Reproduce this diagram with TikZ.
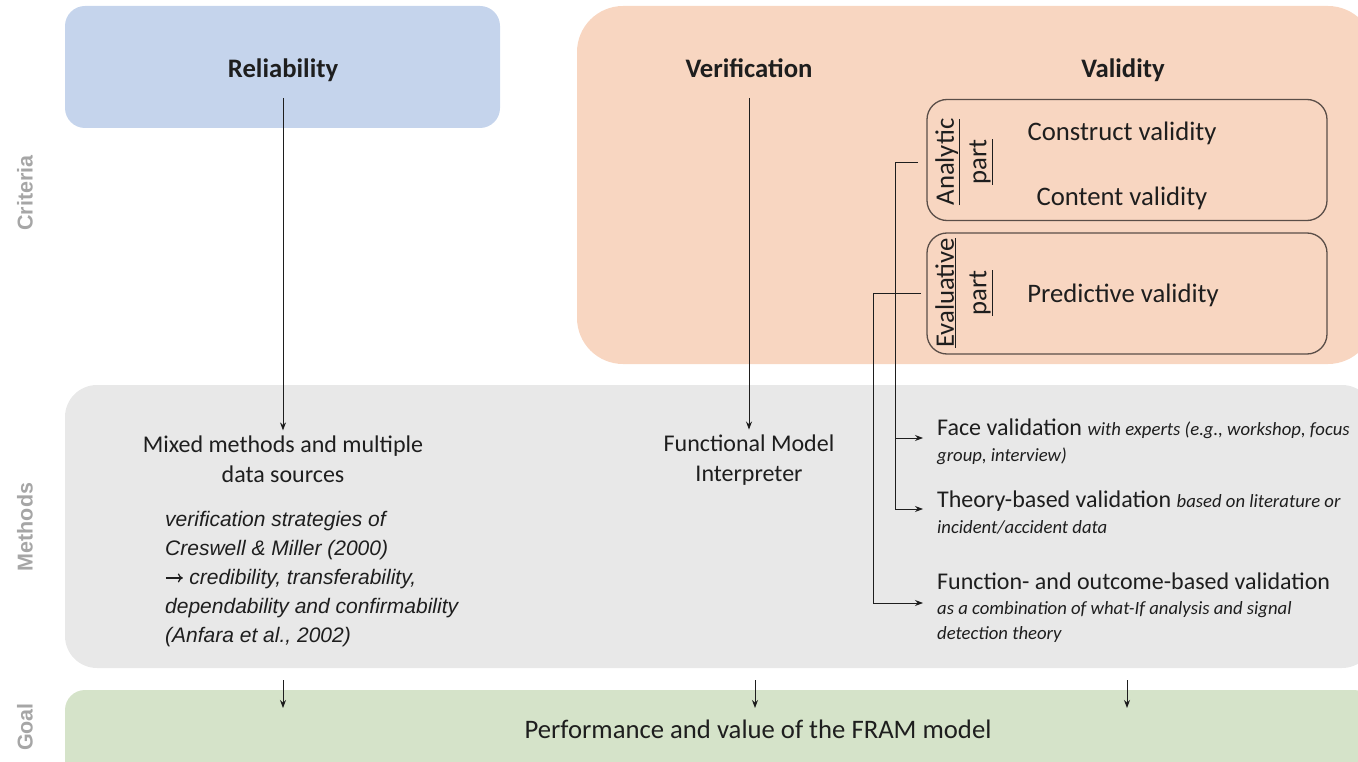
\documentclass[tikz,border=0pt]{standalone}
\usepackage{fontspec}
\setmainfont{Carlito}
\newfontfamily\arialfont{Liberation Sans}
\usetikzlibrary{arrows.meta}
\definecolor{cblue}{RGB}{197,212,236}
\definecolor{corange}{RGB}{248,214,193}
\definecolor{cgray}{RGB}{232,232,232}
\definecolor{cgreen}{RGB}{213,227,201}
\definecolor{sidegray}{RGB}{166,166,166}
\definecolor{boxline}{RGB}{90,78,72}
\definecolor{ink}{RGB}{30,30,30}
\tikzset{
  arr/.style={draw=ink, line width=0.9pt, -{Stealth[length=8pt,width=6pt]}},
  head/.style={font=\fontsize{26.7}{32}\selectfont\bfseries, text=ink, inner sep=0pt, anchor=base},
  big/.style={font=\fontsize{26.7}{32}\selectfont, text=ink, inner sep=0pt},
  mid/.style={font=\fontsize{24}{30}\selectfont, text=ink, inner sep=0pt, align=center},
  item/.style={font=\fontsize{24}{26}\selectfont, text=ink, inner ysep=0pt, inner xsep=14pt, align=left, anchor=west},
  side/.style={font=\arialfont\bfseries\fontsize{21.5}{26}\selectfont, text=sidegray, rotate=90, inner sep=0pt},
  vbox/.style={draw=boxline, line width=1.3pt, rounded corners=20pt, minimum width=400pt, minimum height=121pt},
  vlab/.style={font=\fontsize{26.7}{32.5}\selectfont, text=ink, rotate=90, align=center, inner sep=0pt},
}
\newcommand{\smit}{\fontsize{18.7}{26}\selectfont\itshape}
\newcommand{\bigarrow}{\tikz[baseline={(0pt,-6.5pt)}]\draw[ink, line width=1.3pt, -{To[length=5pt,width=9pt]}] (0pt,0pt) -- (17pt,0pt);}
\begin{document}
\begin{tikzpicture}[x=1pt,y=-1pt]
\useasboundingbox (0,0) rectangle (1358,762);
\begin{scope}
\clip (0,0) rectangle (1358,762);
\fill[cblue, rounded corners=20pt] (65,6) rectangle (500,128);
\fill[corange, rounded corners=46pt] (577,6) rectangle (1374,364);
\fill[cgray, rounded corners=32pt] (65,385) rectangle (1374,668);
\fill[cgreen, rounded corners=20pt] (65,690) rectangle (1374,800);
\end{scope}

% side labels
\node[side] (lcrit) at (25,193) {Criteria};
\node[side] (lmeth) at (25,527) {Methods};
\node[side] (lgoal) at (25,727) {Goal};

% headings
\node[head] (rel) at (283,78) {Reliability};
\node[head] (ver) at (749,78) {Verification};
\node[head] (val) at (1123,78) {Validity};

% validity boxes
\node[vbox] (anabox) at (1127,160) {};
\node[vbox] (evabox) at (1127,293.5) {};
\node[vlab] (analab) at (964,162) {\underline{Analytic}\\\underline{part}};
\node[vlab] (evalab) at (964,293) {\underline{Evaluative}\\\underline{part}};
\node[big] (construct) at (1122,133) {Construct validity};
\node[big] (content) at (1122,198) {Content validity};
\node[big] (predict) at (1123,295) {Predictive validity};

% methods
\node[mid] (mixed) at (283,459) {Mixed methods and multiple\\data sources};
\node[font=\arialfont\itshape\fontsize{21}{28.8}\selectfont, text=ink, inner sep=0pt, align=left, anchor=west] (strat) at (165,579)
  {verification strategies of\\Creswell \& Miller (2000)\\\bigarrow\ credibility, transferability,\\dependability and confirmability\\(Anfara et al., 2002)};
\node[mid] (fmi) at (749,460) {Functional Model\\Interpreter};

\node[item] (face) at (923,442) {Face validation {\smit with experts (e.g., workshop, focus}\\{\smit group, interview)}};
\node[item] (theory) at (923,513) {Theory-based validation {\smit based on literature or}\\{\smit incident/accident data}};
\node[item, font=\fontsize{24}{25}\selectfont] (func) at (923,608) {Function- and outcome-based validation\\{\smit as a combination of what-If analysis and signal}\\{\smit detection theory}};

% goal
\node[big] (goal) at (758,729) {Performance and value of the FRAM model};

% connectors
\draw[arr] ([yshift=-20pt]rel.base) -- ([yshift=5pt]mixed.north);
\draw[arr] ([yshift=-20pt]ver.base) -- ([yshift=5pt]fmi.north);

\coordinate (anaL) at (918,162);
\coordinate (busA) at (895,162);
\coordinate (evaL) at (921,293);
\coordinate (busE) at (873,293);
\draw[arr] (anaL) -- (busA) |- ([yshift=4pt]theory.west);
\draw[arr] (busA |- face.west) ++(0,-4) -- ([yshift=4pt]face.west);
\draw[arr] (evaL) -- (busE) |- ([yshift=5pt]func.west);

\coordinate (g1s) at (283,680); \coordinate (g1e) at (283,708);
\coordinate (g2s) at (755,680); \coordinate (g2e) at (755,708);
\coordinate (g3s) at (1127,680); \coordinate (g3e) at (1127,708);
\draw[arr] (g1s) -- (g1e);
\draw[arr] (g2s) -- (g2e);
\draw[arr] (g3s) -- (g3e);
\end{tikzpicture}
\end{document}
